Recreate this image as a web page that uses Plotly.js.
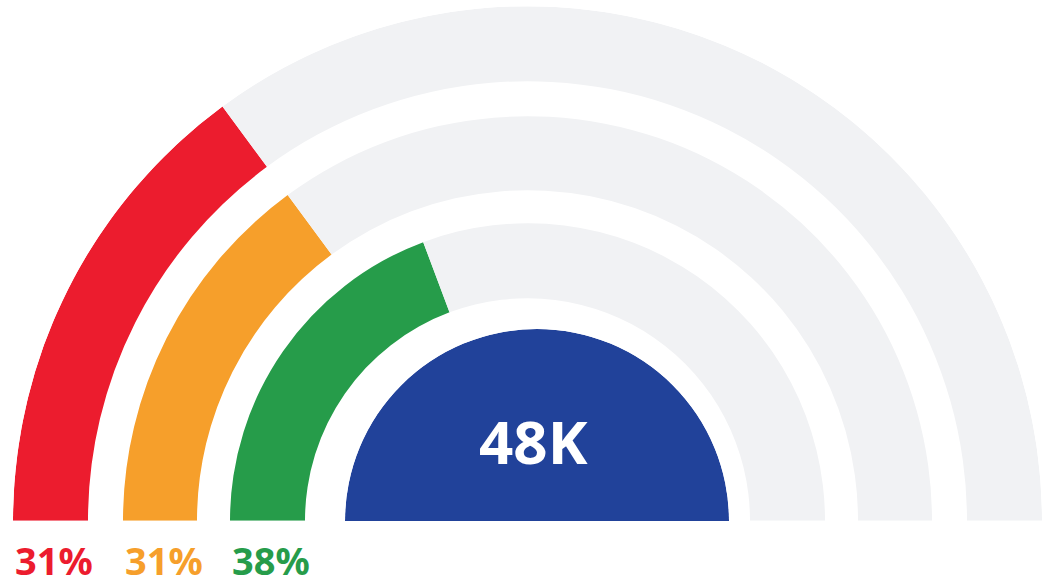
<!DOCTYPE html>
<html><head><meta charset="utf-8">
<script src="https://cdn.plot.ly/plotly-3.0.1.min.js"></script>
<style>html,body{margin:0;padding:0;background:#fff}#chart{width:1043px;height:586px}</style>
</head><body><div id="chart"></div>
<script>
// ---- data ----
const ringNames = ['Red', 'Orange', 'Green'];
const ringLabels = ['31%', '31%', '38%'];
const arcShare = [29.8, 29.8, 38.6];   // % of the half circle filled (read from arcs)
const centerValue = '48K';

// ---- style ----
const ringColors = ['#ec1c2e', '#f69f2b', '#269c4a'];
const trackColor = '#f1f2f4';
const centerColor = '#21429a';
const ringInner = [439.5, 330.5, 222.5];
const ringThick = [75, 74, 75];
const outerR = 514.5;
const M = {l: 13, r: 1, t: 6, b: 65};
const W = 1043, H = 586;
const pw = W - M.l - M.r, ph = H - M.t - M.b;

const traces = [];
ringNames.forEach((n, i) => {
  const deg = arcShare[i] / 100 * 180;
  traces.push({
    type: 'barpolar', subplot: 'polar', name: n,
    theta: [deg / 2], width: [deg], base: [ringInner[i]], r: [ringThick[i]],
    marker: {color: ringColors[i], line: {width: 0}},
    hoverinfo: 'skip', showlegend: false
  });
  traces.push({
    type: 'barpolar', subplot: 'polar', name: n + ' rest',
    theta: [deg + (180 - deg) / 2], width: [180 - deg], base: [ringInner[i]], r: [ringThick[i]],
    marker: {color: trackColor, line: {width: 0}},
    hoverinfo: 'skip', showlegend: false
  });
});
traces.push({
  type: 'barpolar', subplot: 'polar2', name: 'Total',
  theta: [90], width: [180], base: [0], r: [1],
  marker: {color: centerColor, line: {width: 0}},
  hoverinfo: 'skip', showlegend: false
});

const hiddenAng = {visible: false, rotation: 180, direction: 'clockwise', showgrid: false, showline: false, showticklabels: false, ticks: ''};
const blueCx = 537, blueR = 192;
const layout = {
  width: W, height: H,
  margin: M,
  paper_bgcolor: '#ffffff',
  font: {family: 'Noto Sans, sans-serif'},
  polar: {
    domain: {x: [0, 1], y: [0, 1]},
    sector: [0, 180], hole: 0,
    bgcolor: 'rgba(0,0,0,0)',
    radialaxis: {visible: false, range: [0, outerR], showgrid: false, showline: false},
    angularaxis: hiddenAng
  },
  polar2: {
    domain: {x: [(blueCx - blueR - M.l) / pw, (blueCx + blueR - M.l) / pw], y: [0, blueR / ph]},
    sector: [0, 180], hole: 0,
    bgcolor: 'rgba(0,0,0,0)',
    radialaxis: {visible: false, range: [0, 1], showgrid: false, showline: false},
    angularaxis: hiddenAng
  },
  annotations: [
    {xref: 'paper', yref: 'paper', x: (533 - M.l) / pw, y: (ph + M.t - 441) / ph, xanchor: 'center', yanchor: 'middle',
     text: '<b>' + centerValue + '</b>', showarrow: false, font: {size: 60, color: '#ffffff', family: 'Noto Sans'}}
  ].concat(ringLabels.map((t, i) => ({
    xref: 'paper', yref: 'paper',
    x: (527.5 - ringInner[i] - ringThick[i] - M.l) / pw,
    y: (ph + M.t - 532) / ph, xanchor: 'left', yanchor: 'top',
    text: '<b>' + t + '</b>', showarrow: false,
    font: {size: 38, color: ringColors[i], family: 'Noto Sans'}
  })))
};

Plotly.newPlot('chart', traces, layout, {displayModeBar: false, staticPlot: true});
</script>
</body></html>
